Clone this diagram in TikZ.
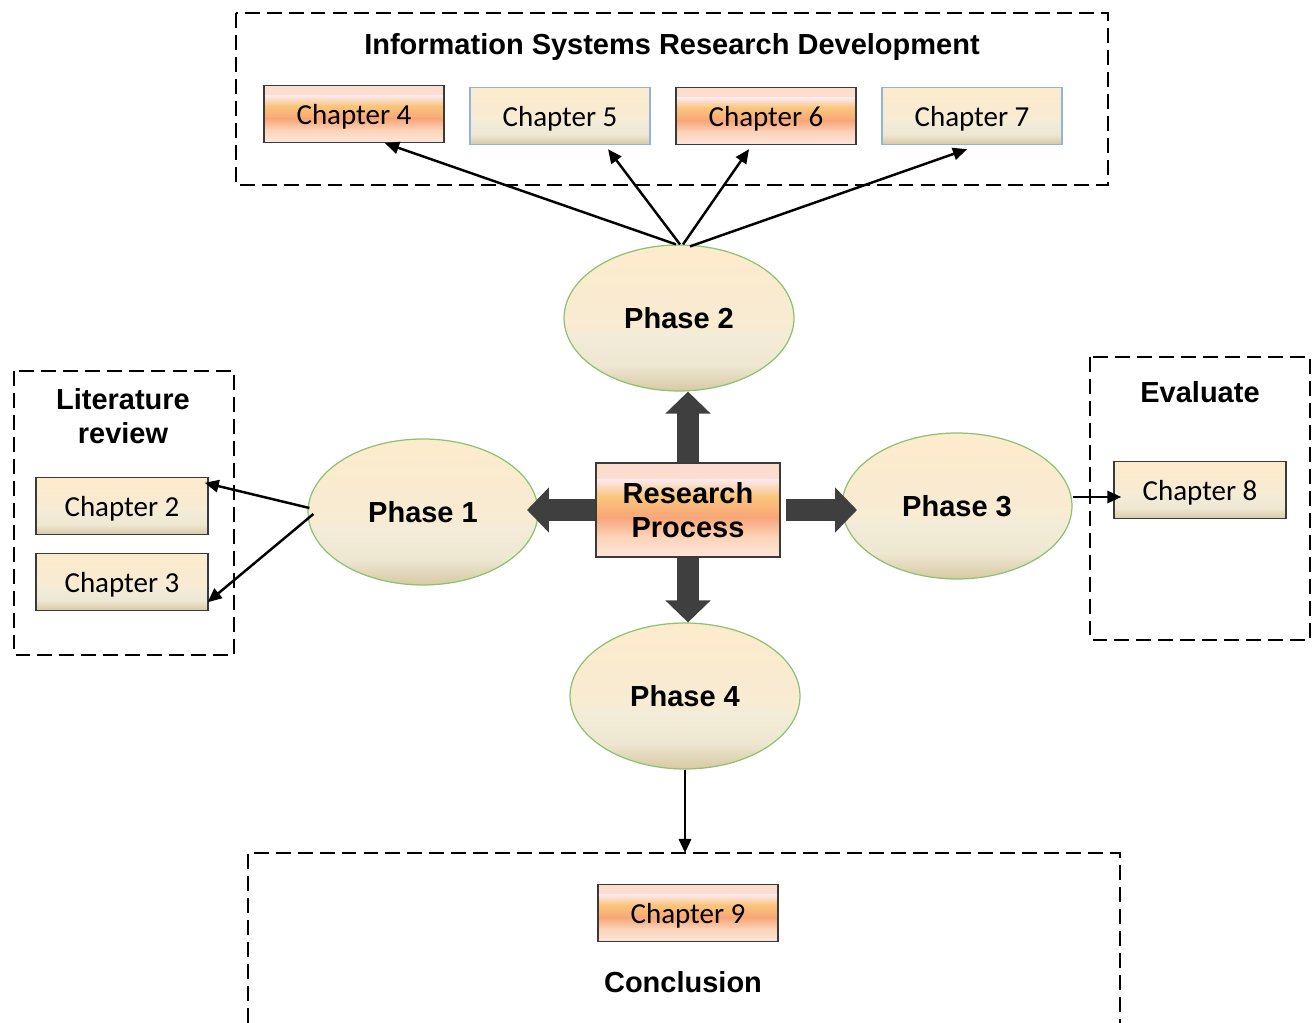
\documentclass[tikz,border=0pt]{standalone}
\usepackage{fontspec}
\setmainfont{Carlito}
\newfontfamily\headfont{Liberation Sans}
\usetikzlibrary{arrows.meta,calc,shapes.geometric}

\definecolor{phaseline}{HTML}{8DC26F}
\definecolor{blueline}{HTML}{8EB4E3}
\definecolor{chapline}{HTML}{3A3A3A}
\definecolor{blockgray}{HTML}{3F3F3F}
\definecolor{orgA}{HTML}{FDE6DA}
\definecolor{orgB}{HTML}{FCD3B8}
\definecolor{orgC}{HTML}{F8A679}
\definecolor{orgD}{HTML}{FAC57A}
\definecolor{orgE}{HTML}{FCE8EC}
\definecolor{orgF}{HTML}{FCDCCB}
\definecolor{begA}{HTML}{D7C9A5}
\definecolor{begC}{HTML}{EEE7D2}
\definecolor{begD}{HTML}{F3ECD8}
\definecolor{begE}{HTML}{FDEBCC}

% one horizontal band of a vertical gradient inside a path picture
\newcommand\gradband[4]{\shade[top color=#3,bottom color=#4]
  ($(path picture bounding box.north west)!#1!(path picture bounding box.south west)$) rectangle
  ($(path picture bounding box.north east)!#2!(path picture bounding box.south east)$);}

\begin{document}
\begin{tikzpicture}[x=0.02cm,y=-0.02cm,
  orangefill/.style={path picture={\gradband{0}{0.18}{orgF}{orgE}\gradband{0.18}{0.36}{orgE}{orgD}
    \gradband{0.36}{0.58}{orgD}{orgC}\gradband{0.58}{0.78}{orgC}{orgB}\gradband{0.78}{1}{orgB}{orgA}}},
  beigefill/.style={path picture={\gradband{0}{0.6}{begE}{begD}\gradband{0.6}{0.82}{begD}{begC}
    \gradband{0.82}{1}{begC}{begA}}},
  head/.style={font=\headfont\bfseries\fontsize{16.5}{19.5}\selectfont, align=center},
  chapbox/.style={draw=chapline, line width=0.8pt, minimum width=3.6cm, minimum height=1.14cm,
    inner sep=0pt, text depth=0pt, font=\fontsize{16.5}{19}\selectfont},
  orangebox/.style={chapbox, orangefill},
  beigebox/.style={chapbox, beigefill},
  bluebox/.style={beigebox, draw=blueline},
  phase/.style={ellipse, draw=phaseline, line width=0.7pt, beigefill,
    minimum width=4.6cm, minimum height=2.92cm, inner sep=0pt, head},
  framebox/.style={draw, line width=1.5pt, dash pattern=on 8.5pt off 4pt},
  link/.style={line width=1.4pt, -{Triangle[length=8pt,width=7pt]}},
  blockarrow/.style={draw=blockgray, line width=12.5pt, -{Triangle[length=12.5pt,width=25pt]}}]

\useasboundingbox (0,0) rectangle (1314,1023);

% frames
\draw[framebox] (236,13) rectangle (1108,185);
\draw[framebox] (14,371) rectangle (234,655);
\draw[framebox] (1090,357) rectangle (1310,640);
\draw[framebox] (248,1023) -- (248,853) -- (1120,853) -- (1120,1023);

\node[head] (isrd) at (672,47) {Information Systems Research Development};
\node[head] (litrev) at (123,416) {Literature\\review};
\node[head] (evaluate) at (1200,392) {Evaluate};
\node[head] (conclusion) at (683,982) {Conclusion};

% chapters
\node[orangebox] (ch4) at (354,114) {Chapter 4};
\node[bluebox] (ch5) at (560,116) {Chapter 5};
\node[orangebox] (ch6) at (766,116) {Chapter 6};
\node[bluebox] (ch7) at (972,116) {Chapter 7};
\node[beigebox, minimum width=3.44cm] (ch2) at (122,506) {Chapter 2};
\node[beigebox, minimum width=3.44cm] (ch3) at (122,582) {Chapter 3};
\node[beigebox, minimum width=3.44cm] (ch8) at (1200,490) {Chapter 8};
\node[orangebox] (ch9) at (688,913) {Chapter 9};

% phases
\node[phase] (p2) at (679,318) {Phase 2};
\node[phase] (p1) at (423,512) {Phase 1};
\node[phase] (p3) at (957,506) {Phase 3};
\node[phase] (p4) at (685,696) {Phase 4};

\node[draw=chapline, line width=0.8pt, head, orangefill, minimum width=3.68cm,
  minimum height=1.88cm, inner sep=0pt] (rp) at (688,510) {Research\\Process};

\coordinate (p1tip) at (527,510);
\coordinate (p3tip) at (857,510);
\coordinate (concltop) at (685,853);

\draw[blockarrow] (rp.north) -- (rp.north |- p2.south);
\draw[blockarrow] (rp.south) -- (rp.south |- p4.north);
\draw[blockarrow] (rp.west) -- (p1tip);
\draw[blockarrow, shorten <=3pt] (rp.east) -- (p3tip);

\draw[link] ($(p2.north)+(-3,0)$) -- ($(ch4.south)+(31,0)$);
\draw[link] ($(p2.north)+(1,0)$) -- ($(ch5.south)+(48,4)$);
\draw[link] ($(p2.north)+(4,0)$) -- ($(ch6.south)+(-17,4)$);
\draw[link] ($(p2.north)+(11,2)$) -- ($(ch7.south)+(-5,4)$);

\draw[link] ($(p1.west)+(2,-4)$) -- ($(ch2.north east)+(-4,6)$);
\draw[link] ($(p1.west)+(6,2)$) -- ($(ch3.south east)+(-1,-9)$);

\draw[link] ($(p3.east)+(0,-9)$) -- ($(ch8.west)+(8,7)$);
\draw[link] (p4.south) -- (concltop);

\end{tikzpicture}
\end{document}
